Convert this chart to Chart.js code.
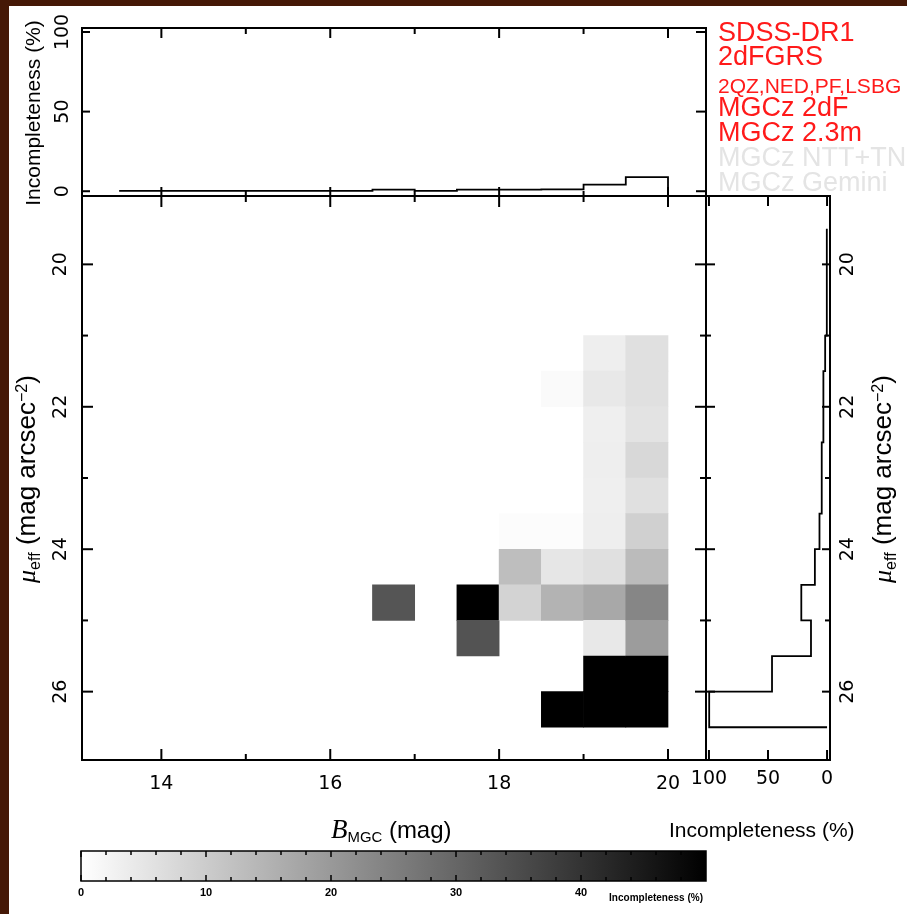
<!DOCTYPE html>
<html>
<head>
<meta charset="utf-8">
<script src="https://cdn.jsdelivr.net/npm/chart.js@4.4.1/dist/chart.umd.min.js"></script>
<style>
html, body { margin: 0; padding: 0; background: #451806; }
#page { position: relative; width: 907px; height: 914px; background: #451806; overflow: hidden; }
#sheet { position: absolute; left: 9px; top: 6px; width: 898px; height: 908px; background: #fff; }
canvas { position: absolute; left: 0; top: 0; }
.lbl { position: absolute; white-space: nowrap; font-family: "Liberation Sans", Arial, sans-serif; color: #000; line-height: 1; }
.rot { transform: translate(-50%, -50%) rotate(-90deg); }
.sb { font-size: 0.62em; position: relative; top: 0.3em; line-height: 0; }
.sp { font-size: 0.62em; position: relative; top: -0.5em; line-height: 0; }
.it { font-family: "Liberation Serif", serif; font-style: italic; line-height: 0; }
.key { position: absolute; left: 718px; white-space: nowrap; font-family: "Liberation Sans", Arial, sans-serif; font-size: 27px; line-height: 1; color: #ff1a1a; }
.key.off { color: #e4e4e4; }
.key.narrow { font-family: "Liberation Sans Narrow", "Liberation Sans", sans-serif; font-size: 21px; }
</style>
</head>
<body>
<div id="page">
  <div id="sheet"></div>
  <canvas id="mainChart" width="907" height="914"></canvas>
  <canvas id="topChart" width="907" height="914"></canvas>
  <canvas id="rightChart" width="907" height="914"></canvas>
  <canvas id="barChart" width="907" height="914"></canvas>

  <div class="key" style="top:19px">SDSS-DR1</div>
  <div class="key" style="top:43px">2dFGRS</div>
  <div class="key narrow" style="top:75px">2QZ,NED,PF,LSBG</div>
  <div class="key" style="top:94px">MGCz 2dF</div>
  <div class="key" style="top:119px">MGCz 2.3m</div>
  <div class="key off" style="top:144px">MGCz NTT+TNG</div>
  <div class="key off" style="top:169px">MGCz Gemini</div>

  <div class="lbl rot" style="left:32px; top:113px; font-size:21px">Incompleteness (%)</div>
  <div class="lbl rot" style="left:26px; top:479px; font-size:26px"><span class="it">μ</span><span class="sb">eff</span> (mag arcsec<span class="sp">−2</span>)</div>
  <div class="lbl rot" style="left:882px; top:479px; font-size:26px"><span class="it">μ</span><span class="sb">eff</span> (mag arcsec<span class="sp">−2</span>)</div>
  <div class="lbl" style="left:331px; top:818px; font-size:24px"><span class="it" style="font-size:27px">B</span><span class="sb">MGC</span> (mag)</div>
  <div class="lbl" style="left:669px; top:819px; font-size:21px">Incompleteness (%)</div>
  <div class="lbl" style="left:703px; top:893px; font-size:10px; font-weight:bold; transform:translateX(-100%)">Incompleteness (%)</div>
</div>

<script>
// axis ranges
const bRange = [13.06, 20.45];
const muRange = [19.04, 26.96];
const topPctRange = [-3, 102.5];
const rightPctRange = [-2.5, 102.5];
const cbRange = [0, 50];
const binWidth = 0.5;

// tick values
const bMajor = [14, 16, 18, 20];
const bMinor = [15, 17, 19];
const muMajor = [20, 22, 24, 26];
const muMinor = [21, 23, 25];
const pctTicks = [0, 50, 100];
const cbMajor = [0, 10, 20, 30, 40];
const cbMinor = [2, 4, 6, 8, 12, 14, 16, 18, 22, 24, 26, 28, 32, 34, 36, 38, 42, 44, 46, 48];

// 2d incompleteness cells: lower bin edges in B and mu, value in %
const cellB = [16.5, 17.5, 17.5, 18, 18, 18, 18.5, 18.5, 18.5, 18.5, 18.5,
  19, 19, 19, 19, 19, 19, 19, 19, 19, 19, 19,
  19.5, 19.5, 19.5, 19.5, 19.5, 19.5, 19.5, 19.5, 19.5, 19.5, 19.5];
const cellMu = [24.5, 24.5, 25, 23.5, 24, 24.5, 21.5, 23.5, 24, 24.5, 26,
  21, 21.5, 22, 22.5, 23, 23.5, 24, 24.5, 25, 25.5, 26,
  21, 21.5, 22, 22.5, 23, 23.5, 24, 24.5, 25, 25.5, 26];
const cellInc = [33.3, 60, 33.8, 0.6, 12.8, 8.6, 0.9, 0.6, 5.0, 14.9, 100,
  3.3, 4.5, 3.1, 3.3, 3.1, 3.3, 6.0, 17.0, 4.6, 50, 100,
  6.1, 6.1, 5.5, 7.6, 6.1, 9.2, 13.4, 23.7, 19.5, 50, 100];

// 1d incompleteness along B (top) and along mu (right)
const topEdges = [13.5, 14, 14.5, 15, 15.5, 16, 16.5, 17, 17.5, 18, 18.5, 19, 19.5, 20];
const topInc = [0.2, 0.2, 0.2, 0.2, 0.2, 0.2, 1.0, 0.2, 1.0, 1.0, 1.1, 4.2, 8.9, 0];
const rightEdges = [19.5, 20, 20.5, 21, 21.5, 22, 22.5, 23, 23.5, 24, 24.5, 25, 25.5, 26, 26.5];
const rightInc = [0.2, 0.2, 0.2, 1.6, 3.1, 3.1, 4.5, 4.5, 6.4, 10.3, 21.8, 13.6, 46.6, 99.8, 0];

function grayOf(v) {
  const f = Math.min(Math.max((v - cbRange[0]) / (cbRange[1] - cbRange[0]), 0), 1);
  const g = Math.round(255 * (1 - f));
  return `rgb(${g}, ${g}, ${g})`;
}

const tickFont = '19px "DejaVu Sans", "Liberation Sans", sans-serif';

// draws the box, inward tick marks and tick labels from the chart's scales
function frameTicks(cfg) {
  return {
    id: 'frameTicks',
    afterDatasetsDraw(chart) {
      const ctx = chart.ctx, a = chart.chartArea;
      ctx.save();
      ctx.strokeStyle = '#000';
      ctx.lineWidth = cfg.lineWidth || 2;
      (cfg.ticks || []).forEach(t => {
        const s = chart.scales[t.axis];
        t.values.forEach(v => {
          const p = s.getPixelForValue(v);
          ctx.beginPath();
          if (t.side === 'top') { ctx.moveTo(p, a.top); ctx.lineTo(p, a.top + t.len); }
          else if (t.side === 'bottom') { ctx.moveTo(p, a.bottom); ctx.lineTo(p, a.bottom - t.len); }
          else if (t.side === 'left') { ctx.moveTo(a.left, p); ctx.lineTo(a.left + t.len, p); }
          else { ctx.moveTo(a.right, p); ctx.lineTo(a.right - t.len, p); }
          ctx.stroke();
        });
      });
      ctx.strokeRect(a.left, a.top, a.right - a.left, a.bottom - a.top);
      ctx.fillStyle = '#000';
      ctx.textAlign = 'center';
      ctx.textBaseline = 'middle';
      (cfg.labels || []).forEach(l => {
        const s = chart.scales[l.axis];
        ctx.font = l.font || tickFont;
        l.values.forEach(v => {
          const p = s.getPixelForValue(v);
          let x = p, y = p;
          if (l.side === 'bottom') y = a.bottom + l.gap;
          else if (l.side === 'left') x = a.left - l.gap;
          else x = a.right + l.gap;
          ctx.save();
          ctx.translate(x, y);
          if (l.rotate) ctx.rotate(-Math.PI / 2);
          ctx.fillText(String(v), 0, 0);
          ctx.restore();
        });
      });
      ctx.restore();
    }
  };
}

const colorbarFill = {
  id: 'colorbarFill',
  beforeDatasetsDraw(chart) {
    const ctx = chart.ctx, a = chart.chartArea, x = chart.scales.x;
    const x0 = x.getPixelForValue(cbRange[0]);
    const x1 = x.getPixelForValue(cbRange[1]);
    const grad = ctx.createLinearGradient(x0, 0, x1, 0);
    grad.addColorStop(0, grayOf(cbRange[0]));
    grad.addColorStop(1, grayOf(cbRange[1]));
    ctx.save();
    ctx.fillStyle = grad;
    ctx.fillRect(x0, a.top, x1 - x0, a.bottom - a.top);
    ctx.restore();
  }
};

function baseOptions(padding) {
  return {
    responsive: false,
    animation: false,
    devicePixelRatio: 1,
    events: [],
    layout: { padding: padding },
    plugins: { legend: { display: false }, tooltip: { enabled: false } }
  };
}

function hiddenLinear(range, reverse) {
  return { type: 'linear', display: false, min: range[0], max: range[1], reverse: !!reverse, offset: false, beginAtZero: false };
}

// main 2d panel: floating bars, one per cell
new Chart(document.getElementById('mainChart'), {
  type: 'bar',
  data: {
    datasets: [{
      data: cellB.map((b, i) => ({ x: b + binWidth / 2, y: [cellMu[i], cellMu[i] + binWidth] })),
      backgroundColor: cellInc.map(grayOf),
      borderWidth: 0,
      barPercentage: 1,
      categoryPercentage: 1
    }]
  },
  options: Object.assign(baseOptions({ left: 82, top: 196, right: 201, bottom: 154 }), {
    scales: { x: hiddenLinear(bRange), y: hiddenLinear(muRange, true) }
  }),
  plugins: [frameTicks({
    ticks: [
      { axis: 'x', side: 'bottom', values: bMajor, len: 11 },
      { axis: 'x', side: 'bottom', values: bMinor, len: 6 },
      { axis: 'x', side: 'top', values: bMajor, len: 11 },
      { axis: 'x', side: 'top', values: bMinor, len: 6 },
      { axis: 'y', side: 'left', values: muMajor, len: 11 },
      { axis: 'y', side: 'left', values: muMinor, len: 6 },
      { axis: 'y', side: 'right', values: muMajor, len: 11 },
      { axis: 'y', side: 'right', values: muMinor, len: 6 }
    ],
    labels: [
      { axis: 'x', side: 'bottom', values: bMajor, gap: 24 },
      { axis: 'y', side: 'left', values: muMajor, gap: 21, rotate: true }
    ]
  })]
});

// top panel: incompleteness vs B
new Chart(document.getElementById('topChart'), {
  type: 'line',
  data: {
    datasets: [{
      data: topEdges.map((b, i) => ({ x: b, y: topInc[i] })),
      borderColor: '#000',
      borderWidth: 1.8,
      pointRadius: 0,
      fill: false,
      stepped: 'before'
    }]
  },
  options: Object.assign(baseOptions({ left: 82, top: 28, right: 201, bottom: 718 }), {
    scales: { x: hiddenLinear(bRange), y: hiddenLinear(topPctRange) }
  }),
  plugins: [frameTicks({
    ticks: [
      { axis: 'x', side: 'top', values: bMajor, len: 10 },
      { axis: 'x', side: 'top', values: bMinor, len: 6 },
      { axis: 'x', side: 'bottom', values: bMajor, len: 9 },
      { axis: 'x', side: 'bottom', values: bMinor, len: 5 },
      { axis: 'y', side: 'left', values: pctTicks, len: 8 },
      { axis: 'y', side: 'right', values: pctTicks, len: 10 }
    ],
    labels: [
      { axis: 'y', side: 'left', values: pctTicks, gap: 19, rotate: true }
    ]
  })]
});

// right panel: incompleteness vs mu
new Chart(document.getElementById('rightChart'), {
  type: 'line',
  data: {
    datasets: [{
      data: rightEdges.map((m, i) => ({ x: rightInc[i], y: m })),
      borderColor: '#000',
      borderWidth: 1.8,
      pointRadius: 0,
      fill: false,
      stepped: 'after'
    }]
  },
  options: Object.assign(baseOptions({ left: 706, top: 196, right: 77, bottom: 154 }), {
    indexAxis: 'y',
    scales: { x: hiddenLinear(rightPctRange, true), y: hiddenLinear(muRange, true) }
  }),
  plugins: [frameTicks({
    ticks: [
      { axis: 'x', side: 'top', values: pctTicks, len: 10 },
      { axis: 'x', side: 'bottom', values: pctTicks, len: 10 },
      { axis: 'y', side: 'left', values: muMajor, len: 9 },
      { axis: 'y', side: 'left', values: muMinor, len: 5 },
      { axis: 'y', side: 'right', values: muMajor, len: 8 },
      { axis: 'y', side: 'right', values: muMinor, len: 5 }
    ],
    labels: [
      { axis: 'x', side: 'bottom', values: pctTicks, gap: 19 },
      { axis: 'y', side: 'right', values: muMajor, gap: 18, rotate: true }
    ]
  })]
});

// colour bar
new Chart(document.getElementById('barChart'), {
  type: 'scatter',
  data: { datasets: [{ data: [] }] },
  options: Object.assign(baseOptions({ left: 81, top: 851, right: 201, bottom: 33 }), {
    scales: { x: hiddenLinear(cbRange), y: hiddenLinear([0, 1]) }
  }),
  plugins: [colorbarFill, frameTicks({
    lineWidth: 1.5,
    ticks: [
      { axis: 'x', side: 'top', values: cbMajor, len: 6 },
      { axis: 'x', side: 'top', values: cbMinor, len: 4 },
      { axis: 'x', side: 'bottom', values: cbMajor, len: 6 },
      { axis: 'x', side: 'bottom', values: cbMinor, len: 4 }
    ],
    labels: [
      { axis: 'x', side: 'bottom', values: cbMajor, gap: 12, font: 'bold 11px "Liberation Sans", Arial, sans-serif' }
    ]
  })]
});
</script>
</body>
</html>
